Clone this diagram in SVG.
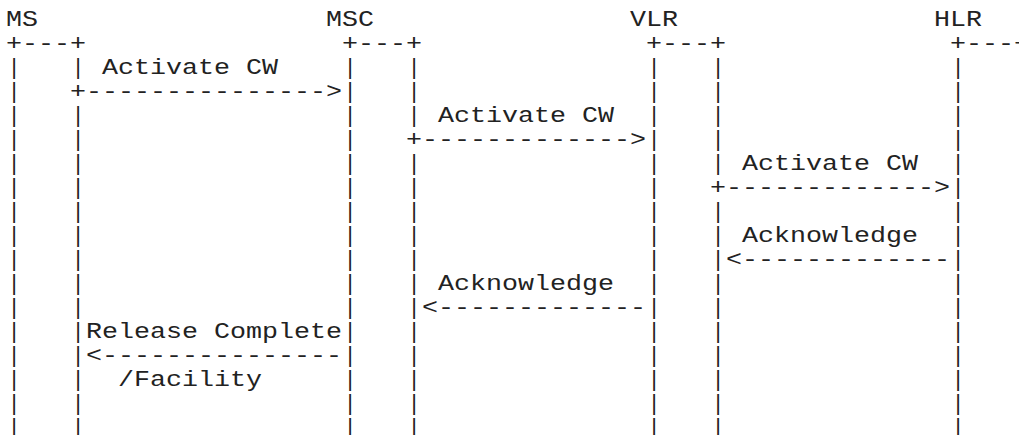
<svg xmlns="http://www.w3.org/2000/svg" width="1019" height="435" viewBox="0 0 1019 435">
<style>
  text { font-family: "Liberation Mono", "DejaVu Sans Mono", monospace; font-size: 22px; fill: #222222; }
  .p { text-anchor: middle; }
</style>
<rect width="1019" height="435" fill="#ffffff"/>
<g id="node-MS">
  <text x="6" y="25.5" textLength="32" lengthAdjust="spacingAndGlyphs">MS</text>
  <text x="6" y="49.5" textLength="80" lengthAdjust="spacingAndGlyphs">+---+</text>
  <text class="p" x="14 14 14 14 14 14 14 14 14 14 14 14 14 14 14 14" y="73.5 97.5 121.5 145.5 169.5 193.5 217.5 241.5 265.5 289.5 313.5 337.5 361.5 385.5 409.5 433.5">||||||||||||||||</text>
  <text class="p" x="78 78 78 78 78 78 78 78 78 78 78 78 78 78 78" y="73.5 121.5 145.5 169.5 193.5 217.5 241.5 265.5 289.5 313.5 337.5 361.5 385.5 409.5 433.5">|||||||||||||||</text>
</g>
<g id="node-MSC">
  <text x="326" y="25.5" textLength="48" lengthAdjust="spacingAndGlyphs">MSC</text>
  <text x="342" y="49.5" textLength="80" lengthAdjust="spacingAndGlyphs">+---+</text>
  <text class="p" x="350 350 350 350 350 350 350 350 350 350 350 350 350 350 350 350" y="73.5 97.5 121.5 145.5 169.5 193.5 217.5 241.5 265.5 289.5 313.5 337.5 361.5 385.5 409.5 433.5">||||||||||||||||</text>
  <text class="p" x="414 414 414 414 414 414 414 414 414 414 414 414 414 414 414" y="73.5 97.5 121.5 169.5 193.5 217.5 241.5 265.5 289.5 313.5 337.5 361.5 385.5 409.5 433.5">|||||||||||||||</text>
</g>
<g id="node-VLR">
  <text x="630" y="25.5" textLength="48" lengthAdjust="spacingAndGlyphs">VLR</text>
  <text x="646" y="49.5" textLength="80" lengthAdjust="spacingAndGlyphs">+---+</text>
  <text class="p" x="654 654 654 654 654 654 654 654 654 654 654 654 654 654 654 654" y="73.5 97.5 121.5 145.5 169.5 193.5 217.5 241.5 265.5 289.5 313.5 337.5 361.5 385.5 409.5 433.5">||||||||||||||||</text>
  <text class="p" x="718 718 718 718 718 718 718 718 718 718 718 718 718 718 718" y="73.5 97.5 121.5 145.5 169.5 217.5 241.5 265.5 289.5 313.5 337.5 361.5 385.5 409.5 433.5">|||||||||||||||</text>
</g>
<g id="node-HLR">
  <text x="934" y="25.5" textLength="48" lengthAdjust="spacingAndGlyphs">HLR</text>
  <text x="950" y="49.5" textLength="80" lengthAdjust="spacingAndGlyphs">+---+</text>
  <text class="p" x="958 958 958 958 958 958 958 958 958 958 958 958 958 958 958 958" y="73.5 97.5 121.5 145.5 169.5 193.5 217.5 241.5 265.5 289.5 313.5 337.5 361.5 385.5 409.5 433.5">||||||||||||||||</text>
</g>
<g id="connectors">
  <text x="102" y="73.5" textLength="176" lengthAdjust="spacingAndGlyphs">Activate CW</text>
  <text x="70" y="97.5" textLength="272" lengthAdjust="spacingAndGlyphs">+---------------&gt;</text>
  <text x="438" y="121.5" textLength="176" lengthAdjust="spacingAndGlyphs">Activate CW</text>
  <text x="406" y="145.5" textLength="240" lengthAdjust="spacingAndGlyphs">+-------------&gt;</text>
  <text x="742" y="169.5" textLength="176" lengthAdjust="spacingAndGlyphs">Activate CW</text>
  <text x="710" y="193.5" textLength="240" lengthAdjust="spacingAndGlyphs">+-------------&gt;</text>
  <text x="742" y="241.5" textLength="176" lengthAdjust="spacingAndGlyphs">Acknowledge</text>
  <text x="726" y="265.5" textLength="224" lengthAdjust="spacingAndGlyphs">&lt;-------------</text>
  <text x="438" y="289.5" textLength="176" lengthAdjust="spacingAndGlyphs">Acknowledge</text>
  <text x="422" y="313.5" textLength="224" lengthAdjust="spacingAndGlyphs">&lt;-------------</text>
  <text x="86" y="337.5" textLength="256" lengthAdjust="spacingAndGlyphs">Release Complete</text>
  <text x="86" y="361.5" textLength="256" lengthAdjust="spacingAndGlyphs">&lt;---------------</text>
  <text x="118" y="385.5" textLength="144" lengthAdjust="spacingAndGlyphs">/Facility</text>
</g>
</svg>
